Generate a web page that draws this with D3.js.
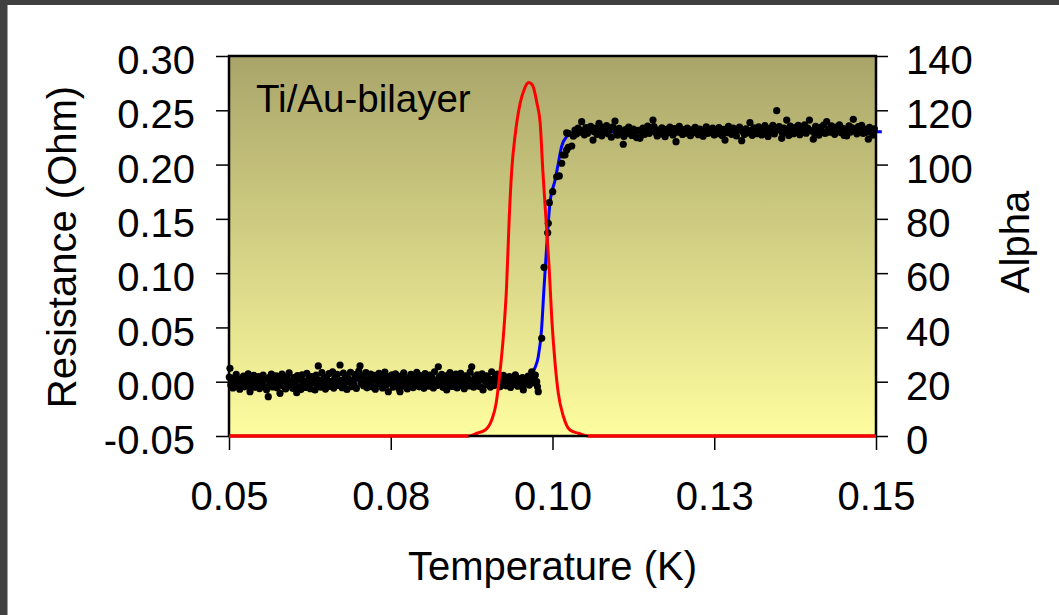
<!DOCTYPE html>
<html>
<head>
<meta charset="utf-8">
<script src="https://cdn.jsdelivr.net/npm/d3@7"></script>
<style>
  html, body { margin: 0; padding: 0; background: #ffffff; }
  svg { display: block; }
  text { font-family: "Liberation Sans", Arial, sans-serif; fill: #000; }
</style>
</head>
<body>
<svg id="chart" width="1059" height="615"></svg>
<script>
// Measured resistance, superconducting (low) branch: [temperature K, resistance Ohm]
const lowBranch = [
  [0.05005,0.0042],[0.05015,0.0123],[0.05028,-0.0031],[0.05046,0.0012],[0.05061,-0.0058],[0.05079,0.0035],
  [0.05098,-0.0014],[0.05112,0.0067],[0.05131,-0.0042],[0.05149,0.0008],[0.05166,-0.0069],[0.05188,0.0026],
  [0.05203,-0.0021],[0.05224,0.0051],[0.05241,-0.0047],[0.05259,0.0019],[0.05278,-0.0006],[0.05296,0.0073],
  [0.05311,-0.0035],[0.05325,-0.0092],[0.05344,0.0031],[0.05362,-0.0012],[0.05381,0.0058],[0.05399,-0.0052],
  [0.05416,0.0004],[0.05437,-0.0027],[0.05455,0.0046],[0.05472,-0.0063],[0.05491,0.0015],[0.05508,-0.0009],
  [0.05527,0.0062],[0.05546,-0.0041],[0.05562,0.0023],[0.05581,-0.0074],[0.05607,-0.0138],[0.05619,0.0037],
  [0.05636,-0.0016],[0.05655,0.0069],[0.05674,-0.0048],[0.05691,0.0011],[0.05709,-0.0032],[0.05728,0.0054],
  [0.05746,-0.0057],[0.05763,0.0028],[0.05788,-0.0107],[0.05801,-0.0004],[0.05819,0.0071],[0.05837,-0.0039],
  [0.05855,0.0017],[0.05874,-0.0066],[0.05892,0.0044],[0.05911,-0.0019],[0.05929,0.0081],[0.05946,-0.0029],
  [0.05965,0.0006],[0.05983,-0.0061],[0.06002,0.0039],[0.06019,-0.0011],[0.06046,-0.0101],[0.06058,0.0056],
  [0.06074,-0.0044],[0.06093,0.0021],[0.06111,-0.0072],[0.06129,0.0064],[0.06148,-0.0023],[0.06166,0.0009],
  [0.06184,-0.0053],[0.06203,0.0077],[0.06221,-0.0017],[0.06239,0.0033],[0.06257,-0.0064],[0.06276,0.0048],
  [0.06294,-0.0007],[0.06312,0.0025],[0.06329,-0.0076],[0.06348,0.0061],[0.06363,-0.0036],[0.0638,0.0145],
  [0.06399,0.0014],[0.06417,-0.0049],[0.06436,0.0083],[0.06454,-0.0013],[0.06472,0.0041],[0.06491,-0.0068],
  [0.06509,0.0027],[0.06527,-0.0025],[0.06546,0.0074],[0.06564,-0.0043],[0.06582,0.0003],[0.06601,0.0091],
  [0.06619,-0.0059],[0.06637,0.0036],[0.06655,-0.0008],[0.06674,0.0068],[0.06694,-0.0034],[0.06716,0.0154],
  [0.06731,0.0012],[0.06749,-0.0055],[0.06768,0.0079],[0.06786,-0.0019],[0.06804,0.0045],[0.06823,-0.0071],
  [0.06841,0.0029],[0.06859,-0.0003],[0.06878,0.0087],[0.06896,-0.0046],[0.06914,0.0018],[0.06932,-0.0027],
  [0.06951,0.0066],[0.06969,-0.0062],[0.06987,0.0034],[0.07006,0.0097],[0.07025,0.0145],[0.07042,-0.0015],
  [0.07061,0.0052],[0.07079,-0.0038],[0.07097,0.0008],[0.07116,0.0084],[0.07134,-0.0056],[0.07152,0.0024],
  [0.07171,-0.0011],[0.07189,0.0071],[0.07207,-0.0047],[0.07226,0.0013],[0.07244,0.0059],[0.07262,-0.0069],
  [0.07281,0.0031],[0.07299,-0.0022],[0.07317,0.0076],[0.07336,-0.0005],[0.07354,0.0043],[0.07372,-0.0058],
  [0.07391,0.0017],[0.07409,0.0089],[0.07427,-0.0032],[0.07446,0.0047],[0.07462,-0.0092],[0.07482,0.0021],
  [0.07501,-0.0014],[0.07519,0.0063],[0.07537,-0.0049],[0.07556,0.0006],[0.07574,0.0072],[0.07592,-0.0026],
  [0.07611,0.0038],[0.07626,-0.0063],[0.07643,-0.0092],[0.07664,0.0055],[0.07682,-0.0009],[0.07701,0.0081],
  [0.07719,-0.0041],[0.07737,0.0019],[0.07756,-0.0066],[0.07774,0.0034],[0.07792,-0.0018],[0.07811,0.0068],
  [0.07829,0.0002],[0.07847,-0.0054],[0.07866,0.0045],[0.07884,-0.0031],[0.07902,0.0086],[0.07921,0.0011],
  [0.07939,-0.0047],[0.07957,0.0057],[0.07976,-0.0012],[0.07994,0.0029],[0.08012,-0.0061],[0.08031,0.0074],
  [0.08049,-0.0024],[0.08067,0.0016],[0.08086,-0.0042],[0.08104,0.0061],[0.08122,-0.0007],[0.08141,0.0036],
  [0.08159,-0.0058],[0.08177,0.0092],[0.08196,0.0009],[0.08214,-0.0035],[0.08235,0.0138],[0.08251,0.0042],
  [0.08269,-0.0016],[0.08287,0.0067],[0.08306,-0.0052],[0.08324,0.0022],[0.08342,0.0001],[0.08365,-0.0076],
  [0.08379,0.0058],[0.08397,-0.0029],[0.08416,0.0084],[0.08434,0.0013],[0.08452,-0.0044],[0.08471,0.0049],
  [0.08489,-0.0011],[0.08507,0.0071],[0.08526,-0.0057],[0.08544,0.0027],[0.08562,0.0005],[0.08581,0.0078],
  [0.08599,-0.0036],[0.08617,0.0019],[0.08636,-0.0064],[0.08654,0.0053],[0.08672,-0.0008],[0.08691,0.0032],
  [0.08709,-0.0039],[0.08727,0.0088],[0.08751,0.0138],[0.08764,0.0011],[0.08782,-0.0051],[0.08801,0.0046],
  [0.08819,-0.0017],[0.08837,0.0063],[0.08856,0.0004],[0.08874,-0.0045],[0.08892,0.0037],[0.08911,0.0072],
  [0.08926,-0.0076],[0.08947,0.0015],[0.08966,-0.0028],[0.08984,0.0054],[0.09002,-0.0003],[0.09021,0.0026],
  [0.0904,-0.0049],[0.0906,0.0092],[0.09077,0.0018],[0.09095,-0.0034],[0.09114,0.0041],[0.09132,-0.0012],
  [0.0915,0.0069],[0.09169,0.0007],[0.09187,-0.0047],[0.09206,0.0033],[0.09224,-0.0021],[0.09242,0.0058],
  [0.09261,0.0002],[0.09279,-0.0038],[0.09297,0.0024],[0.09316,-0.0009],[0.09334,0.0047],[0.09352,-0.0053],
  [0.09371,0.0012],[0.09389,0.0036],[0.09407,-0.0024],[0.09426,0.0063],[0.09444,0.0009],[0.09462,-0.0041],
  [0.09481,0.0028],[0.09499,0.0003],[0.09517,-0.0016],[0.09536,0.0039],[0.09549,-0.0076],[0.09569,0.0008],
  [0.09587,-0.0022],[0.09606,0.0017],[0.09624,0.0052],[0.09642,-0.0031],[0.09661,0.0014],[0.09679,0.0092],
  [0.09697,0.0046],[0.09716,-0.0012],[0.09734,0.0061],[0.09756,0.0000],[0.09768,-0.0047],[0.0978,-0.0092]
];

// Measured resistance through the transition
const transitionBranch = [
  [0.09833,0.0400],[0.09869,0.1054],[0.09926,0.1372],[0.09935,0.1459],[0.09951,0.1649],[0.10003,0.1750],
  [0.10065,0.1888],[0.10105,0.1895],[0.10142,0.2012],[0.10158,0.2088],[0.10193,0.2088],[0.10219,0.2134],
  [0.10244,0.2159],[0.10297,0.2171],[0.10219,0.2293],[0.10244,0.2288]
];

// Measured resistance, normal-state (high) branch
const highBranch = [
  [0.10322,0.2262],[0.10347,0.2318],[0.10371,0.2281],[0.10395,0.2336],[0.10419,0.2297],[0.10451,0.2395],
  [0.10468,0.2312],[0.10493,0.2274],[0.10517,0.2341],[0.10542,0.2289],[0.10566,0.2326],[0.1059,0.2352],
  [0.10626,0.2226],[0.10641,0.2304],[0.10664,0.2337],[0.10689,0.2279],[0.10719,0.2380],[0.10738,0.2318],
  [0.10762,0.2265],[0.10787,0.2343],[0.10811,0.2296],[0.10836,0.2358],[0.1086,0.2284],[0.10884,0.2329],
  [0.10909,0.2252],[0.10933,0.2347],[0.10966,0.2401],[0.10982,0.2307],[0.11006,0.2271],[0.11031,0.2333],
  [0.11055,0.2293],[0.11094,0.2187],[0.11104,0.2258],[0.11129,0.2321],[0.11153,0.2286],[0.11178,0.2344],
  [0.11202,0.2302],[0.11226,0.2268],[0.11251,0.2327],[0.11275,0.2291],[0.113,0.2249],[0.11324,0.2315],
  [0.11352,0.2242],[0.11373,0.2299],[0.11398,0.2336],[0.11422,0.2277],[0.11447,0.2311],[0.11471,0.2355],
  [0.11496,0.2288],[0.1152,0.2323],[0.11553,0.2410],[0.11569,0.2349],[0.11593,0.2296],[0.11618,0.2264],
  [0.11642,0.2317],[0.11667,0.2283],[0.11691,0.2338],[0.11716,0.2301],[0.1174,0.2257],[0.11765,0.2324],
  [0.11789,0.2292],[0.11814,0.2346],[0.11838,0.2309],[0.11862,0.2273],[0.11887,0.2331],[0.11909,0.2211],
  [0.11936,0.2298],[0.1196,0.2353],[0.11985,0.2315],[0.12009,0.2278],[0.12034,0.2321],[0.12058,0.2289],
  [0.12083,0.2337],[0.12107,0.2305],[0.12132,0.2266],[0.12156,0.2319],[0.12181,0.2293],[0.12205,0.2342],
  [0.1223,0.2308],[0.12254,0.2275],[0.12279,0.2327],[0.12303,0.2296],[0.12328,0.2261],[0.12352,0.2314],
  [0.12377,0.2348],[0.12401,0.2287],[0.12426,0.2322],[0.1245,0.2299],[0.12475,0.2335],[0.12499,0.2272],
  [0.12524,0.2316],[0.12548,0.2284],[0.12573,0.2341],[0.12597,0.2303],[0.12622,0.2268],[0.12646,0.2325],
  [0.12666,0.2226],[0.12695,0.2294],[0.1272,0.2352],[0.12744,0.2311],[0.12769,0.2279],[0.12793,0.2336],
  [0.12818,0.2298],[0.12842,0.2263],[0.12867,0.2319],[0.12891,0.2345],[0.12924,0.2220],[0.1294,0.2307],
  [0.12965,0.2276],[0.12989,0.2329],[0.13014,0.2291],[0.13052,0.2386],[0.13063,0.2313],[0.13087,0.2269],
  [0.13112,0.2338],[0.13136,0.2301],[0.13161,0.2284],[0.13185,0.2347],[0.1321,0.2312],[0.13234,0.2273],
  [0.13259,0.2326],[0.13283,0.2358],[0.13308,0.2294],[0.13332,0.2259],[0.13357,0.2333],[0.13381,0.2305],
  [0.13406,0.2362],[0.1343,0.2282],[0.13465,0.2496],[0.13479,0.2321],[0.13504,0.2349],[0.13542,0.2242],
  [0.13553,0.2288],[0.13577,0.2335],[0.1362,0.2410],[0.13626,0.2302],[0.13651,0.2267],[0.13675,0.2354],
  [0.137,0.2318],[0.13724,0.2284],[0.13749,0.2341],[0.13773,0.2297],[0.13798,0.2362],[0.13822,0.2275],
  [0.13847,0.2328],[0.13871,0.2303],[0.13896,0.2366],[0.1392,0.2289],[0.13945,0.2337],[0.13971,0.2410],
  [0.13994,0.2312],[0.14031,0.2233],[0.14043,0.2294],[0.14067,0.2352],[0.14092,0.2319],[0.14116,0.2271],
  [0.14141,0.2343],[0.14165,0.2306],[0.1419,0.2364],[0.14214,0.2286],[0.14238,0.2395],[0.14263,0.2327],
  [0.14288,0.2298],[0.14312,0.2357],[0.14337,0.2316],[0.14361,0.2279],[0.14386,0.2345],[0.1441,0.2308],
  [0.14435,0.2367],[0.14459,0.2292],[0.14484,0.2334],[0.14508,0.2268],[0.14547,0.2263],[0.14557,0.2321],
  [0.14582,0.2356],[0.14606,0.2299],[0.14631,0.2338],[0.14649,0.2417],[0.1468,0.2311],[0.14704,0.2283],
  [0.14729,0.2349],[0.14753,0.2304],[0.14778,0.2361],[0.14802,0.2287],[0.14827,0.2326],[0.14851,0.2296],
  [0.14881,0.2233],[0.149,0.2343],[0.14925,0.2312],[0.14949,0.2271],[0.14974,0.2329]
];

// Fitted R(T) curve
const fitCurve = [
  [0.0500,0.0008],[0.0950,0.0010],[0.0962,0.0025],[0.0968,0.0077],[0.0973,0.0130],[0.0978,0.0230],
  [0.0983,0.0476],[0.0987,0.0875],[0.0992,0.1336],[0.0996,0.1643],[0.1004,0.1858],[0.1009,0.2012],
  [0.1014,0.2165],[0.1022,0.2257],[0.1032,0.2294],[0.1045,0.2303],[0.1509,0.2303]
];

// Logarithmic sensitivity alpha(T)
const alphaCurve = [
  [0.0500,0],[0.0870,0],[0.0883,1.0],[0.0896,2.2],[0.0906,5.9],[0.0913,12.2],[0.0918,21.8],
  [0.0924,36.6],[0.0929,55.0],[0.0933,79.6],[0.0937,98.0],[0.0942,110.3],[0.0950,122.6],[0.0956,127.5],
  [0.0963,130.2],[0.0969,129.3],[0.0976,122.6],[0.0981,115.2],[0.0985,98.0],[0.0990,79.6],[0.0995,61.2],
  [0.0999,42.7],[0.1004,26.8],[0.1009,15.7],[0.1017,7.1],[0.1027,2.2],[0.1040,1.0],[0.1055,0],[0.1500,0]
];

// Axis ticks and labels
const tempTicks = [0.05, 0.075, 0.10, 0.125, 0.15];
const tempTickLabels = ["0.05", "0.08", "0.10", "0.13", "0.15"];
const resTicks = [-0.05, 0.00, 0.05, 0.10, 0.15, 0.20, 0.25, 0.30];
const alphaTicks = [0, 20, 40, 60, 80, 100, 120, 140];

const svg = d3.select("#chart");
const W = 1059, H = 615;
const plot = { left: 229, right: 876, top: 56, bottom: 436 };
const FONT = 40;

// window frame
svg.append("rect").attr("x", 0).attr("y", 0).attr("width", W).attr("height", H).attr("fill", "#ffffff");
svg.append("rect").attr("x", 0).attr("y", 0).attr("width", W).attr("height", 5).attr("fill", "#404040");
svg.append("rect").attr("x", 0).attr("y", 0).attr("width", 7.5).attr("height", H).attr("fill", "#404040");

const x = d3.scaleLinear().domain([0.05, 0.15]).range([plot.left, plot.right]);
const yR = d3.scaleLinear().domain([-0.05, 0.30]).range([plot.bottom, plot.top]);
const yA = d3.scaleLinear().domain([0, 140]).range([plot.bottom, plot.top]);

// plot area gradient
const defs = svg.append("defs");
const grad = defs.append("linearGradient").attr("id", "plotFill")
  .attr("x1", 0).attr("y1", 0).attr("x2", 0).attr("y2", 1);
grad.append("stop").attr("offset", "0%").attr("stop-color", "#a9a56a");
grad.append("stop").attr("offset", "100%").attr("stop-color", "#fefd9f");

svg.append("rect")
  .attr("x", plot.left).attr("y", plot.top)
  .attr("width", plot.right - plot.left).attr("height", plot.bottom - plot.top)
  .attr("fill", "url(#plotFill)");

// axes
function styleAxis(g) {
  g.select(".domain").remove();
  g.selectAll(".tick line").attr("stroke", "#000").attr("stroke-width", 1.5);
  g.selectAll(".tick text")
    .style("font-family", "'Liberation Sans', Arial, sans-serif")
    .style("font-size", FONT + "px")
    .attr("fill", "#000");
}

// two decimals with an ASCII hyphen for negatives
const resFormat = d => d.toFixed(2);

const axLeft = svg.append("g").attr("transform", `translate(${plot.left},0)`)
  .call(d3.axisLeft(yR).tickValues(resTicks).tickSize(13).tickPadding(21).tickFormat(resFormat))
  .call(styleAxis);
axLeft.selectAll(".tick text").attr("dy", "0.44em");

const axRight = svg.append("g").attr("transform", `translate(${plot.right},0)`)
  .call(d3.axisRight(yA).tickValues(alphaTicks).tickSize(12).tickPadding(18).tickFormat(d3.format("d")))
  .call(styleAxis);
axRight.selectAll(".tick text").attr("dy", "0.44em");

const axBottom = svg.append("g").attr("transform", `translate(0,${plot.bottom})`)
  .call(d3.axisBottom(x).tickValues(tempTicks).tickSize(14).tickPadding(0)
    .tickFormat((d, i) => tempTickLabels[i]))
  .call(styleAxis);
axBottom.selectAll(".tick text").attr("y", 74).attr("dy", 0);

// fitted curve
const lineR = d3.line().x(d => x(d[0])).y(d => yR(d[1])).curve(d3.curveMonotoneX);
svg.append("path").datum(fitCurve).attr("d", lineR)
  .attr("fill", "none").attr("stroke", "#0000ff").attr("stroke-width", 3);

// measured points
const allPoints = lowBranch.concat(transitionBranch, highBranch);
svg.append("g").selectAll("circle").data(allPoints).join("circle")
  .attr("cx", d => x(d[0])).attr("cy", d => yR(d[1])).attr("r", 3.6)
  .attr("fill", "#000");

// alpha curve
const lineA = d3.line().x(d => x(d[0])).y(d => yA(d[1])).curve(d3.curveMonotoneX);
svg.append("path").datum(alphaCurve).attr("d", lineA)
  .attr("fill", "none").attr("stroke", "#ff0000").attr("stroke-width", 3)
  .attr("stroke-linejoin", "round");

// plot frame
svg.append("rect")
  .attr("x", plot.left).attr("y", plot.top)
  .attr("width", plot.right - plot.left).attr("height", plot.bottom - plot.top)
  .attr("fill", "none").attr("stroke", "#000").attr("stroke-width", 2.5);
// alpha = 0 baseline stays visible over the bottom edge of the frame
svg.append("path")
  .attr("d", `M${x(0.05)},${yA(0)}H${x(0.087)}M${x(0.1055)},${yA(0)}H${x(0.15)}`)
  .attr("stroke", "#ff0000").attr("stroke-width", 3);

// labels
svg.append("text").attr("x", 256).attr("y", 112)
  .style("font-size", "38.5px").text("Ti/Au-bilayer");

svg.append("text").attr("x", (plot.left + plot.right) / 2).attr("y", 580)
  .attr("text-anchor", "middle").style("font-size", FONT + "px").text("Temperature (K)");

svg.append("text").attr("transform", `translate(76,${247}) rotate(-90)`)
  .attr("text-anchor", "middle").style("font-size", FONT + "px").text("Resistance (Ohm)");

svg.append("text").attr("transform", `translate(1029,${242}) rotate(-90)`)
  .attr("text-anchor", "middle").style("font-size", FONT + "px").text("Alpha");
</script>
</body>
</html>
